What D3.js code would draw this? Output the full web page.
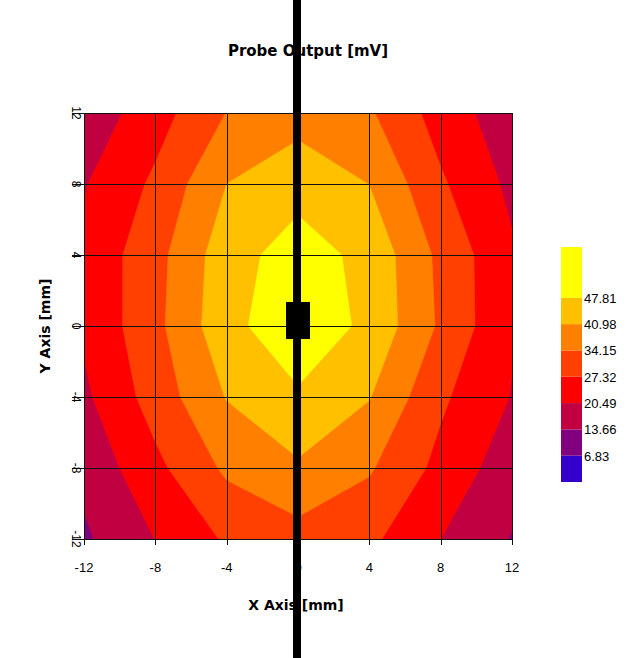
<!DOCTYPE html>
<html>
<head>
<meta charset="utf-8">
<script src="https://cdn.jsdelivr.net/npm/d3@7"></script>
<style>
  body { margin: 0; background: #fff; }
  text { font-family: "Liberation Sans", Arial, sans-serif; }
  .bold { font-family: "DejaVu Sans", sans-serif; font-weight: bold; }
</style>
</head>
<body>
<div id="chart"></div>
<script>
// Grid positions (mm)
var xTicks = [-12, -8, -4, 0, 4, 8, 12];
var yTicks = [12, 8, 4, 0, -4, -8, -12];

// Probe output [mV], one row per Y value (top Y=12 to bottom Y=-12), columns X=-12..12
var rowY12  = [16.0, 24.4, 34.3, 38.3, 35.0, 24.4, 16.3];
var rowY8   = [20.0, 28.6, 41.0, 45.3, 40.9, 28.3, 18.9];
var rowY4   = [22.0, 31.8, 44.9, 51.0, 45.8, 32.5, 21.4];
var rowY0   = [21.5, 32.3, 45.7, 52.7, 46.2, 33.1, 21.1];
var rowYm4  = [19.2, 30.3, 41.3, 46.9, 41.3, 28.5, 20.2];
var rowYm8  = [15.4, 25.6, 35.4, 40.0, 34.9, 25.4, 16.5];
var rowYm12 = [12.6, 20.6, 28.2, 31.5, 28.8, 20.5, 13.3];

// contour levels and colours
var levels = [0, 6.83, 13.66, 20.49, 27.32, 34.15, 40.98, 47.81];
var levelColors = ["#3300cc", "#800080", "#c00040", "#ff0000", "#ff4000", "#ff8000", "#ffc000", "#ffff00"];
var legendMax = 61;

var width = 629, height = 658;
var plot = {left: 84, right: 512, top: 113, bottom: 539};

var svg = d3.select('#chart')
  .append('svg')
    .attr('width', width)
    .attr('height', height);

var x = d3.scaleLinear().domain([-12, 12]).range([plot.left, plot.right]);
var y = d3.scaleLinear().domain([-12, 12]).range([plot.bottom, plot.top]);

// contour grid -> data coordinates (d3.contours puts values at cell centres)
var values = [].concat(rowY12, rowY8, rowY4, rowY0, rowYm4, rowYm8, rowYm12);
var nx = xTicks.length, ny = yTicks.length;
function gx(c) { return x(-12 + (c - 0.5) * 4); }
function gy(c) { return y(12 - (c - 0.5) * 4); }

var contours = d3.contours().size([nx, ny]).thresholds(levels)(values);
var path = d3.geoPath(d3.geoTransform({
  point: function(px, py) { this.stream.point(gx(px), gy(py)); }
}));

svg.append("clipPath").attr("id", "clip")
  .append("rect")
    .attr("x", plot.left).attr("y", plot.top)
    .attr("width", plot.right - plot.left)
    .attr("height", plot.bottom - plot.top);

svg.append("g")
  .attr("clip-path", "url(#clip)")
  .selectAll("path")
  .data(contours)
  .enter().append("path")
    .attr("d", path)
    .attr("fill", function(d, i) { return levelColors[i]; })
    .attr("stroke", function(d, i) { return levelColors[i]; })
    .attr("stroke-width", 0.5);

// grid lines
var grid = svg.append("g").attr("stroke", "#111").attr("stroke-width", 1).attr("shape-rendering", "crispEdges");
xTicks.forEach(function(t) {
  var px = Math.round(x(t)) + 0.5;
  grid.append("line").attr("x1", px).attr("x2", px).attr("y1", plot.top).attr("y2", plot.bottom + 6);
});
yTicks.forEach(function(t) {
  var py = Math.round(y(t)) + 0.5;
  grid.append("line").attr("x1", plot.left - 12).attr("x2", plot.right).attr("y1", py).attr("y2", py);
});

// tick labels
svg.append("g").selectAll("text")
  .data(xTicks)
  .enter().append("text")
    .attr("x", function(d) { return x(d); })
    .attr("y", 572)
    .attr("text-anchor", "middle")
    .attr("font-size", 13)
    .text(function(d) { return d; });

svg.append("g").selectAll("text")
  .data(yTicks)
  .enter().append("text")
    .attr("transform", function(d) { return "translate(72," + y(d) + ") rotate(90)"; })
    .attr("text-anchor", "middle")
    .attr("font-size", 12)
    .text(function(d) { return d; });

// titles
svg.append("text")
  .attr("class", "bold")
  .attr("x", 308).attr("y", 56)
  .attr("text-anchor", "middle")
  .attr("font-size", 15)
  .text("Probe Output [mV]");

svg.append("text")
  .attr("class", "bold")
  .attr("x", 296).attr("y", 610)
  .attr("text-anchor", "middle")
  .attr("font-size", 14)
  .text("X Axis [mm]");

svg.append("text")
  .attr("class", "bold")
  .attr("transform", "translate(50," + y(0) + ") rotate(-90)")
  .attr("text-anchor", "middle")
  .attr("font-size", 14)
  .text("Y Axis [mm]");

// legend
var ly = d3.scaleLinear().domain([0, legendMax]).range([482, 247]);
var bands = levels.map(function(l, i) { return {lo: l, hi: i + 1 < levels.length ? levels[i + 1] : legendMax, color: levelColors[i]}; });
svg.append("g").selectAll("rect")
  .data(bands)
  .enter().append("rect")
    .attr("x", 561).attr("width", 21)
    .attr("y", function(d) { return ly(d.hi); })
    .attr("height", function(d) { return ly(d.lo) - ly(d.hi); })
    .attr("fill", function(d) { return d.color; });

svg.append("g").selectAll("text")
  .data(levels.slice(1))
  .enter().append("text")
    .attr("x", 584)
    .attr("y", function(d) { return ly(d) + 5; })
    .attr("font-size", 13)
    .text(function(d) { return d.toFixed(2); });

// probe marker
var probe = svg.append("g").attr("fill", "#000");
probe.append("rect")
  .attr("x", x(0) - 5).attr("width", 8)
  .attr("y", 0).attr("height", height);
probe.append("rect")
  .attr("x", x(0) - 12).attr("width", 24)
  .attr("y", y(0) - 24).attr("height", 37);
</script>
</body>
</html>
